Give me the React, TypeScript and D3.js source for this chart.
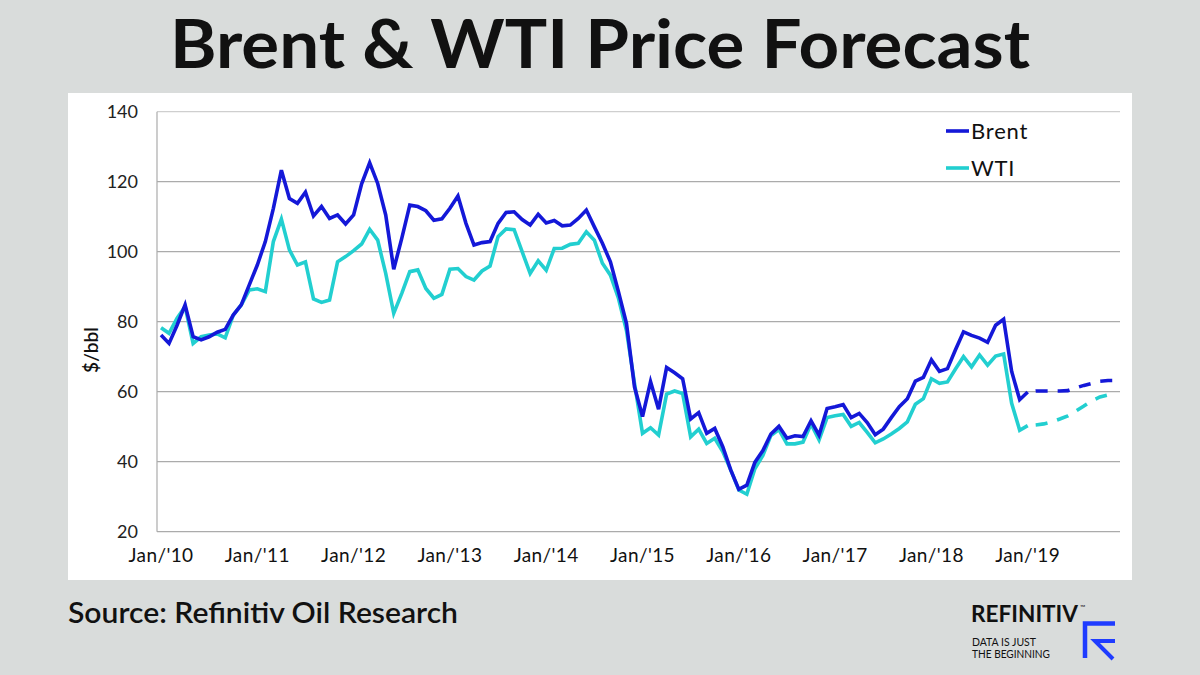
import * as d3 from "d3";

// monthly averages, $/bbl, Jan 2010 .. Jan 2019 (actual)
const brentActual = [
  76.2, 73.8, 79.0, 84.8, 75.7, 74.8, 75.7, 77.0, 77.8, 81.9, 84.8, 90.5,
  96.2, 102.9, 112.4, 123.3, 115.2, 113.8, 117.0, 110.2, 112.9, 109.5, 110.5, 107.9,
  110.5, 119.4, 125.4, 119.5, 110.5, 95.0, 103.8, 113.3, 112.9, 111.7, 109.0, 109.4,
  112.4, 115.9, 108.1, 101.9, 102.6, 102.9, 108.1, 111.2, 111.4, 109.2, 107.6, 110.7,
  108.2, 108.9, 107.4, 107.6, 109.5, 111.9, 107.1, 102.4, 97.1, 88.6, 79.5, 61.4,
  52.9, 62.9, 55.0, 66.9, 65.4, 63.7, 52.2, 54.0, 48.1, 49.5, 44.3, 37.6,
  32.1, 33.3, 39.8, 43.2, 47.9, 50.1, 46.7, 47.4, 47.2, 51.7, 47.6, 55.2,
  55.7, 56.3, 52.6, 53.8, 51.2, 47.7, 49.3, 52.6, 55.7, 58.0, 63.0, 64.1,
  69.1, 65.8, 66.6, 72.0, 77.1, 76.1, 75.3, 74.1, 79.0, 80.7, 65.8, 57.7,
  59.9,
];
const wtiActual = [
  78.3, 76.7, 81.0, 84.3, 73.8, 75.7, 76.2, 76.5, 75.4, 81.9, 84.8, 89.1,
  89.4, 88.6, 102.9, 109.3, 100.5, 96.2, 97.1, 86.5, 85.5, 86.2, 97.1, 98.6,
  100.3, 102.2, 106.4, 103.3, 93.8, 82.4, 88.1, 94.3, 94.8, 89.5, 86.7, 87.8,
  95.0, 95.2, 92.9, 91.9, 94.5, 95.9, 104.3, 106.5, 106.3, 100.0, 93.8, 97.4,
  94.7, 100.9, 101.0, 102.1, 102.4, 105.7, 103.3, 96.7, 93.3, 86.7, 77.5, 62.4,
  48.1, 49.7, 47.6, 59.3, 60.2, 59.5, 47.1, 49.3, 45.2, 46.7, 42.9, 37.6,
  31.9, 30.7, 38.0, 41.8, 47.5, 49.2, 45.1, 45.1, 45.6, 50.8, 46.2, 52.6,
  53.1, 53.5, 50.1, 51.2, 48.4, 45.4, 46.5, 47.9, 49.5, 51.4, 56.4, 58.0,
  63.7, 62.4, 62.8, 66.5, 70.0, 67.1, 70.5, 67.6, 70.2, 70.8, 56.7, 49.0,
  50.3,
];
// forecast, Feb 2019 .. Dec 2019
const brentForecast = [60.2, 60.2, 60.2, 60.2, 60.3, 61.1, 61.8, 62.4, 63.0, 63.2, 63.2];
const wtiForecast = [50.5, 50.8, 51.4, 52.2, 53.1, 54.5, 55.9, 57.4, 58.5, 59.1, 59.1];

const yearLabels = ["Jan/'10", "Jan/'11", "Jan/'12", "Jan/'13", "Jan/'14", "Jan/'15", "Jan/'16", "Jan/'17", "Jan/'18", "Jan/'19"];
const yTicks = [20, 40, 60, 80, 100, 120, 140];

const BRENT = "#1418d8";
const WTI = "#22cfd0";
const FONT = "Lato, 'Open Sans', sans-serif";

export default function App() {
  const width = 1200;
  const height = 675;
  const nMonths = brentActual.length + brentForecast.length;

  const x = d3.scaleLinear().domain([-0.5, nMonths - 0.5]).range([157, 1120]);
  const y = d3.scaleLinear().domain([20, 140]).range([531.7, 111.7]);

  const line = d3
    .line<number>()
    .x((_, i) => x(i))
    .y((d) => y(d));

  const lastIdx = brentActual.length - 1;
  const dashLine = d3
    .line<number>()
    .x((_, i) => x(lastIdx + i))
    .y((d) => y(d));

  const series = [
    { name: "WTI", color: WTI, actual: wtiActual, forecast: wtiForecast },
    { name: "Brent", color: BRENT, actual: brentActual, forecast: brentForecast },
  ];

  return (
    <svg
      width={width}
      height={height}
      style={{ position: "absolute", left: 0, top: 0, display: "block" }}
      fontFamily={FONT}
    >
      <rect width={width} height={height} fill="#d9dcdb" />
      <text
        x={600}
        y={68}
        textAnchor="middle"
        fontSize={66}
        fontWeight={700}
        fill="#111"
        textLength={860}
        lengthAdjust="spacingAndGlyphs"
      >
        Brent &amp; WTI Price Forecast
      </text>

      <rect x={68} y={93} width={1064} height={487} fill="#ffffff" />

      {/* grid */}
      {yTicks.map((t) => (
        <g key={t}>
          <line
            x1={157}
            x2={1120}
            y1={y(t)}
            y2={y(t)}
            stroke={t === 140 ? "#cfcfcf" : "#ababab"}
            strokeWidth={1.2}
          />
          <text x={138} y={y(t)} dy="0.36em" textAnchor="end" fontSize={18} fill="#222">
            {t}
          </text>
        </g>
      ))}
      <line x1={157} x2={157} y1={y(140)} y2={y(20)} stroke="#ababab" strokeWidth={1.2} />

      {yearLabels.map((lab, k) => (
        <text
          key={lab}
          x={x(k * 12)}
          y={562}
          textAnchor="middle"
          fontSize={19}
          letterSpacing={0.4}
          fill="#111"
        >
          {lab}
        </text>
      ))}

      <text
        transform={`translate(98,350) rotate(-90)`}
        textAnchor="middle"
        fontSize={19}
        fontWeight={600}
        fill="#111"
      >
        $/bbl
      </text>

      {/* lines */}
      {series.map((s) => (
        <g key={s.name}>
          <path
            d={line(s.actual) ?? ""}
            fill="none"
            stroke={s.color}
            strokeWidth={3.6}
            strokeLinejoin="miter"
          />
          <path
            d={dashLine([s.actual[lastIdx], ...s.forecast]) ?? ""}
            fill="none"
            stroke={s.color}
            strokeWidth={3.6}
            strokeDasharray="12 10"
            strokeDashoffset={-8}
          />
        </g>
      ))}

      {/* legend */}
      {[
        { name: "Brent", color: BRENT, yy: 131 },
        { name: "WTI", color: WTI, yy: 168 },
      ].map((l) => (
        <g key={l.name}>
          <line x1={946} x2={969} y1={l.yy} y2={l.yy} stroke={l.color} strokeWidth={3.6} />
          <text x={971} y={l.yy} dy="0.36em" fontSize={22} fill="#111" letterSpacing={0.8}>
            {l.name}
          </text>
        </g>
      ))}

      <text
        x={68}
        y={623}
        fontSize={28}
        fontWeight={600}
        fill="#111"
        textLength={390}
        lengthAdjust="spacingAndGlyphs"
      >
        Source: Refinitiv Oil Research
      </text>

      {/* logo */}
      <text
        x={971}
        y={622}
        fontSize={22}
        fontWeight={700}
        fill="#111"
        textLength={107}
        lengthAdjust="spacingAndGlyphs"
      >
        REFINITIV
      </text>
      <text x={1080} y={610} fontSize={7} fill="#111">
        ™
      </text>
      <text x={972} y={646} fontSize={10.5} fill="#111" textLength={64} lengthAdjust="spacingAndGlyphs">
        DATA IS JUST
      </text>
      <text x={972} y={658} fontSize={10.5} fill="#111" textLength={78} lengthAdjust="spacingAndGlyphs">
        THE BEGINNING
      </text>
      <path d="M1085,658 L1085,623.5 L1115,623.5" fill="none" stroke="#1f3cff" strokeWidth={4.5} />
      <path d="M1115,641 L1095,641 L1113,659" fill="none" stroke="#1f3cff" strokeWidth={4} />
    </svg>
  );
}
